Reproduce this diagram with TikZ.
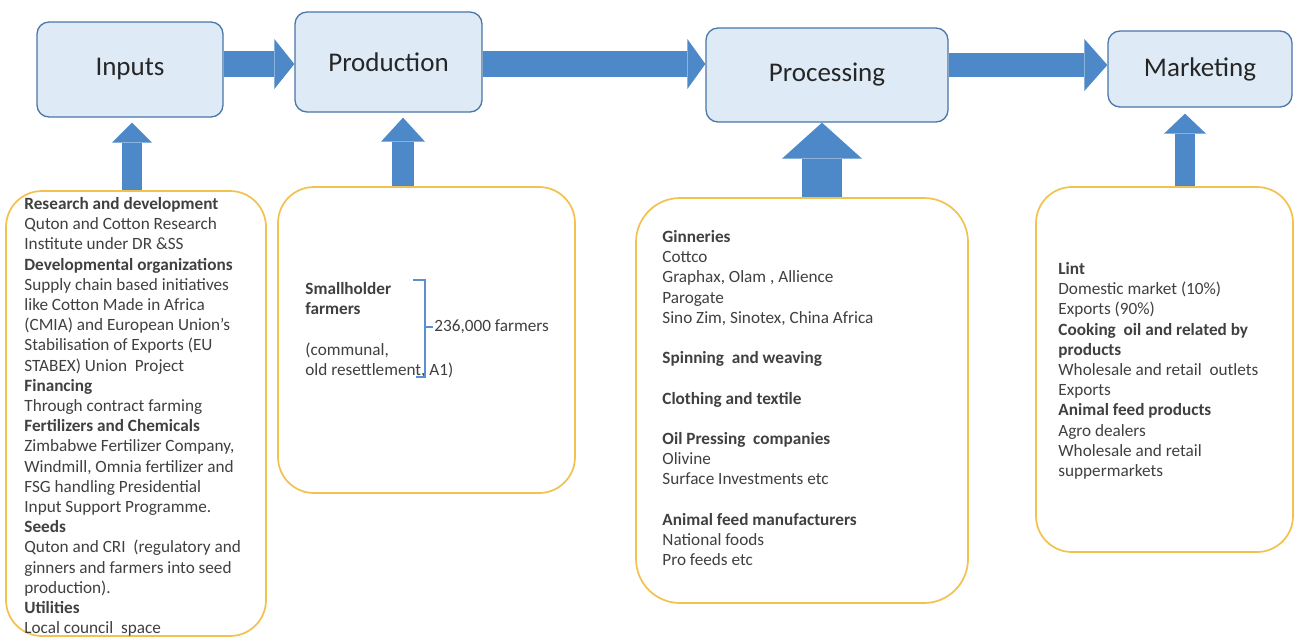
\documentclass[tikz,border=0pt]{standalone}
\usepackage{fontspec}
\setmainfont{Carlito}
\usetikzlibrary{arrows.meta}

\definecolor{stagefill}{HTML}{DEEBF7}
\definecolor{stageline}{HTML}{4A76A8}
\definecolor{flowblue}{HTML}{4D89C9}
\definecolor{notegold}{HTML}{F2C14E}
\definecolor{notegray}{HTML}{404040}
\definecolor{bracketblue}{HTML}{5B8FD0}

\begin{document}
\begin{tikzpicture}[x=0.5pt,y=-0.5pt,
            stage/.style = {draw=stageline,fill=stagefill,line width=0.65pt,
                rounded corners=6pt,text=black!85,
                font=\fontsize{13.5}{16}\selectfont},
            note/.style = {draw=notegold,line width=0.85pt,
                rounded corners=18pt,fill=white},
            notetext/.style = {anchor=north west,inner sep=0pt,align=left,
                text=notegray,font=\fontsize{8.6}{10.1}\selectfont},
            flow/.style n args = {3}{draw=flowblue,line width=#1,
                -{Triangle[width=#2,length=#3,line width=0pt]}}]
            \path[use as bounding box,fill=white] (0,0) rectangle (1294,639);
            % the four stages
            \node[stage,minimum width=93pt,minimum height=47.5pt] (inputs) at (130,69.5) {Inputs};
            \node[stage,minimum width=93.5pt,minimum height=50pt] (production) at (388.5,62) {Production};
            \node[stage,minimum width=121pt,minimum height=47pt] (processing) at (827,75) {Processing};
            \node[stage,minimum width=92pt,minimum height=38pt] (marketing) at (1200,69) {Marketing};
            % notes below
            \node[note,minimum width=130pt,minimum height=222.5pt] (inputsnote) at (136,413.5) {};
            \node[note,minimum width=148.5pt,minimum height=153pt] (productionnote) at (426.5,340) {};
            \node[note,rounded corners=22pt,minimum width=166pt,minimum height=202.5pt] (processingnote) at (802,400.5) {};
            \node[note,minimum width=128.5pt,minimum height=182.5pt] (marketingnote) at (1164.5,369.5) {};
            \node[notetext] (inputslist) at (24,197) {
                \textbf{Research and development}\\
                Quton and Cotton Research\\
                Institute under DR \&SS\\
                \textbf{Developmental organizations}\\
                Supply chain based initiatives\\
                like Cotton Made in Africa\\
                (CMIA) and European Union's\\
                Stabilisation of Exports (EU\\
                STABEX) Union\ \ Project\\
                \textbf{Financing}\\
                Through contract farming\\
                \textbf{Fertilizers and Chemicals}\\
                Zimbabwe Fertilizer Company,\\
                Windmill, Omnia fertilizer and\\
                FSG handling Presidential\\
                Input Support Programme.\\
                \textbf{Seeds}\\
                Quton and CRI\ \ (regulatory and\\
                ginners and farmers into seed\\
                production).\\
                \textbf{Utilities}\\
                Local council\ \ space
            };
            \node[notetext] (farmers) at (305,282) {
                \textbf{Smallholder}\\
                \textbf{farmers}\\[10.1pt]
                (communal,\\
                old resettlement, A1)
            };
            \draw[bracketblue,line width=0.6pt] (413,280) -| (425,377) -- (416,377);
            \draw[bracketblue,line width=0.6pt] (425,327) -- (433,327);
            \node[anchor=west,inner sep=0pt,text=notegray,
                font=\fontsize{8.6}{10.1}\selectfont] (farmcount) at (434,327) {236,000 farmers};
            \node[notetext] (processinglist) at (662,230) {
                \textbf{Ginneries}\\
                Cottco\\
                Graphax, Olam , Allience\\
                Parogate\\
                Sino Zim, Sinotex, China Africa\\[10.1pt]
                \textbf{Spinning\ \ and weaving}\\[10.1pt]
                \textbf{Clothing and textile}\\[10.1pt]
                \textbf{Oil Pressing\ \ companies}\\
                Olivine\\
                Surface Investments etc\\[10.1pt]
                \textbf{Animal feed manufacturers}\\
                National foods\\
                Pro feeds etc
            };
            \node[notetext] (marketinglist) at (1058,262) {
                \textbf{Lint}\\
                Domestic market (10\%)\\
                Exports (90\%)\\
                \textbf{Cooking\ \ oil and related by}\\
                \textbf{products}\\
                Wholesale and retail\ \ outlets\\
                Exports\\
                \textbf{Animal feed products}\\
                Agro dealers\\
                Wholesale and retail\\
                suppermarkets
            };
            % flow between stages
            \draw[flow={13pt}{25pt}{10pt}] ([yshift=2.75pt]inputs.east)
                -- ([yshift=2.75pt]inputs.east -| production.west);
            \draw[flow={13pt}{25pt}{9pt}] ([yshift=-1pt]production.east)
                -- ([yshift=-1pt]production.east -| processing.west);
            \draw[flow={12pt}{26pt}{11.5pt}] ([yshift=5pt]processing.east)
                -- ([yshift=5pt]processing.east -| marketing.west);
            % notes feed the stages
            \draw[flow={10pt}{20pt}{10pt},shorten >=2.5pt] ([xshift=-2pt]inputsnote.north)
                -- ([xshift=-2pt]inputsnote.north |- inputs.south);
            \draw[flow={11pt}{22pt}{12pt},shorten >=2.5pt] ([xshift=-11.75pt]productionnote.north)
                -- ([xshift=-11.75pt]productionnote.north |- production.south);
            \draw[flow={20pt}{40pt}{18pt}] ([xshift=10pt]processingnote.north)
                -- ([xshift=10pt]processingnote.north |- processing.south);
            \draw[flow={10pt}{21pt}{10pt},shorten >=3pt] ([xshift=10.25pt]marketingnote.north)
                -- ([xshift=10.25pt]marketingnote.north |- marketing.south);
\end{tikzpicture}
\end{document}
